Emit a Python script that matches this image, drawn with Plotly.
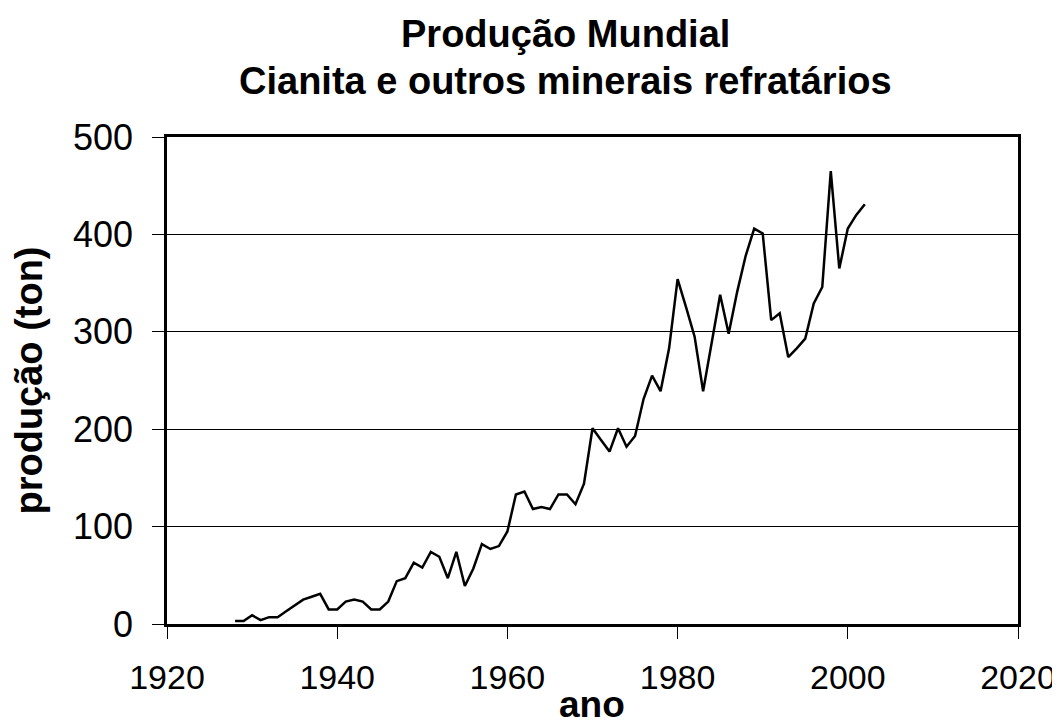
import plotly.graph_objects as go

years = list(range(1928, 2003))
producao = [3, 3, 9, 4, 7, 7, 13, 19, 25, 28,
            31, 15, 15, 23, 25, 23, 15, 15, 23, 44,
            47, 63, 58, 74, 69, 47, 74, 39, 57, 82,
            77, 80, 95, 133, 136, 118, 120, 118, 133, 133,
            123, 144, 201, 189, 177, 201, 182, 193, 231, 255,
            239, 283, 354, 325, 295, 239, 288, 338, 298, 341,
            378, 406, 401, 312, 319, 274, 283, 293, 329, 346,
            465, 365, 406, 420, 431]

x_ticks = [1920, 1940, 1960, 1980, 2000, 2020]
y_ticks = [0, 100, 200, 300, 400, 500]

title_lines = ["Produção Mundial", "Cianita e outros minerais refratários"]
x_title = "ano"
y_title = "produção (ton)"

FONT = "Liberation Sans, Arial, sans-serif"
# the page body has an 8px default margin; size the figure to fill the window
OFF = 8
W, H = 1060 - OFF, 727 - OFF
# plot area in page pixels: x 167..1018, y 137..624
L, T = 167 - OFF, 137 - OFF
R = (OFF + W) - 1018
B = (OFF + H) - 624
PW = W - L - R
PH = H - T - B


def py(pix):
    # pix: page pixel (y from top)
    return (H - B - (pix - OFF)) / PH


def px(pix):
    return ((pix - OFF) - L) / PW


fig = go.Figure()
fig.add_trace(go.Scatter(x=years, y=producao, mode="lines",
                         line=dict(color="black", width=2.5),
                         showlegend=False, hoverinfo="x+y"))

fig.update_layout(
    width=W, height=H,
    margin=dict(l=L, r=R, t=T, b=B, autoexpand=False),
    paper_bgcolor="white", plot_bgcolor="white",
    font=dict(family=FONT, color="black", size=36),
)

for txt, ypix in zip(title_lines, [34, 81]):
    fig.add_annotation(text="<b>%s</b>" % txt, xref="paper", yref="paper",
                       x=px(565), y=py(ypix), xanchor="center", yanchor="middle",
                       showarrow=False,
                       font=dict(family=FONT, size=38, color="black"))

fig.add_annotation(text="<b>%s</b>" % x_title, xref="paper", yref="paper",
                   x=px(592), y=py(704), xanchor="center", yanchor="middle",
                   showarrow=False,
                   font=dict(family=FONT, size=37, color="black"))

fig.update_xaxes(range=[1920, 2020], tickmode="array", tickvals=x_ticks,
                 ticktext=[str(t) for t in x_ticks],
                 showgrid=False, zeroline=False, automargin=False,
                 showline=True, linecolor="black", linewidth=2.5, mirror=True,
                 ticks="outside", ticklen=12, tickcolor="black", tickwidth=1,
                 ticklabelstandoff=9,
                 tickfont=dict(family=FONT, size=34, color="black"))
fig.update_yaxes(range=[0, 500], tickmode="array", tickvals=y_ticks,
                 ticktext=[str(t) for t in y_ticks],
                 showgrid=True, gridcolor="black", gridwidth=1,
                 zeroline=False, automargin=False,
                 showline=True, linecolor="black", linewidth=2.5, mirror=True,
                 ticks="outside", ticklen=12, tickcolor="black", tickwidth=1,
                 ticklabelstandoff=12,
                 tickfont=dict(family=FONT, size=36, color="black"),
                 title=dict(text="<b>%s</b>" % y_title, standoff=26,
                            font=dict(family=FONT, size=38, color="black")))

fig.write_html("out.html")
